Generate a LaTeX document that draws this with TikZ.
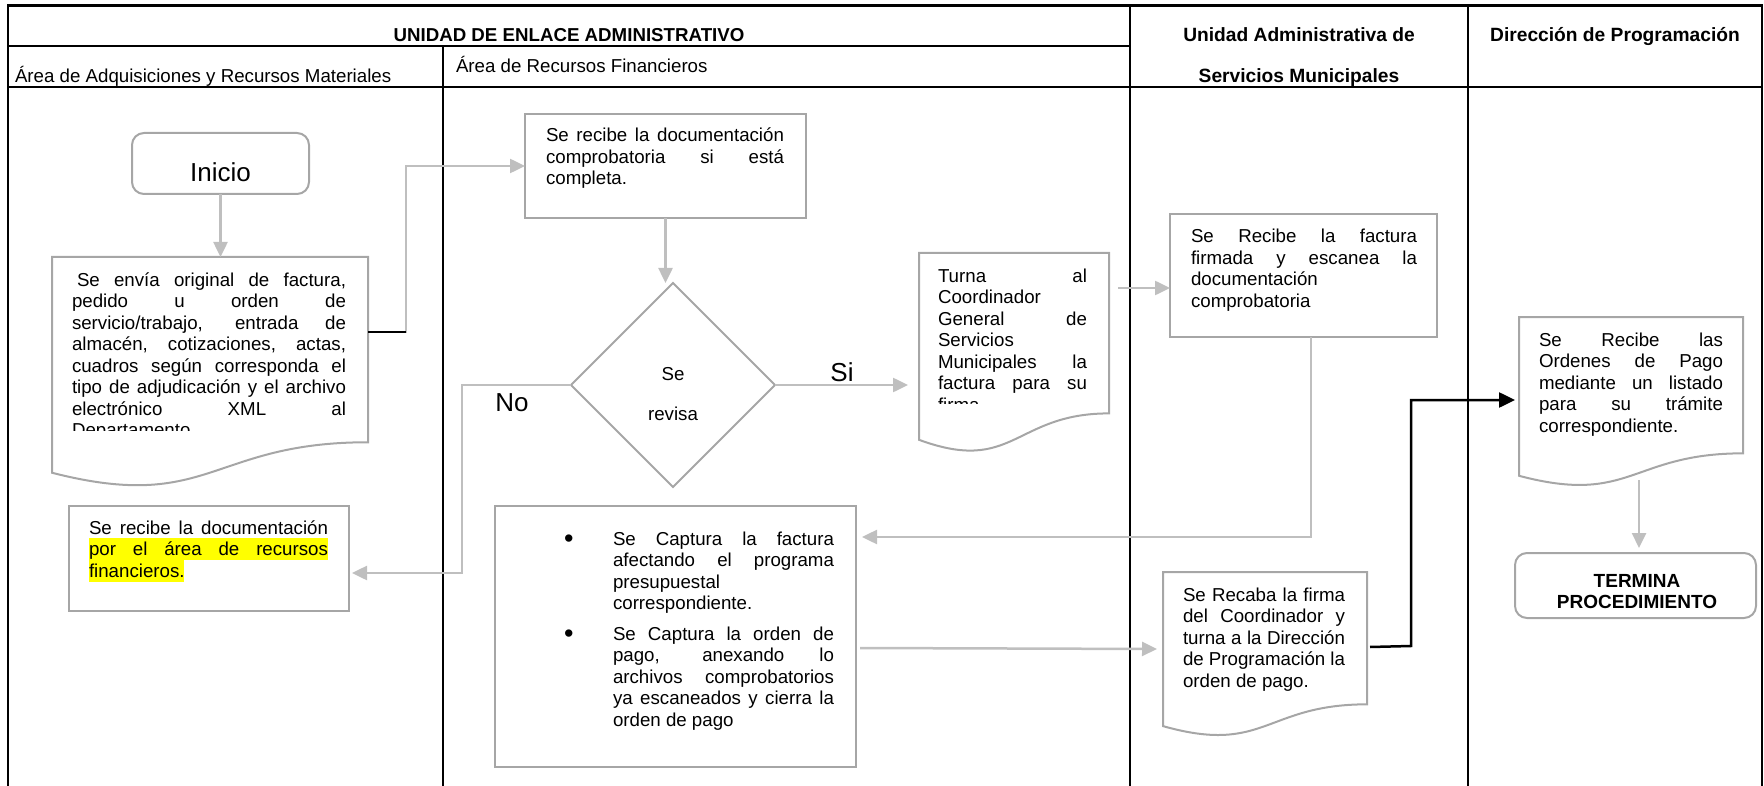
\documentclass[tikz,border=0pt]{standalone}
\usepackage{fontspec}
\setmainfont{Liberation Sans}
\usetikzlibrary{arrows.meta,shapes.geometric,calc}

\definecolor{boxgray}{HTML}{A6A6A6}
\definecolor{arrgray}{HTML}{BFBFBF}
\definecolor{hilite}{HTML}{FFFF00}

\newcommand\bodyfont{\fontsize{18.7}{21.5}\selectfont}
\newcommand\topstrut{\rule{0pt}{15pt}}
\newlength\tw
\newcommand\jl[1]{\makebox[\tw][s]{#1}}
\newcommand\bulmark{\llap{\makebox[49pt][l]{\raisebox{-2.6pt}{\fontsize{27}{27}\selectfont •}}}}

% document (wavy-bottom) outline around an invisible node
\newcommand\docpath[1]{%
  \draw[boxline] let \p1=(#1.north west), \p2=(#1.south east), \n1={\y1-\y2} in
    (\x1,\y1) -- (\x2,\y1) -- (\x2,{\y1-0.802*\n1})
    .. controls ({(\x1+\x2)/2},{\y1-0.802*\n1}) and ({(\x1+\x2)/2},{\y1-1.109*\n1}) ..
    (\x1,{\y1-0.934*\n1}) -- cycle;}

\begin{document}
\begin{tikzpicture}[x=1pt,y=-1pt,
  tbl/.style={line width=2.6pt, draw=black},
  boxline/.style={draw=boxgray, line width=2pt},
  box/.style={boxline, rectangle, inner sep=0pt, outer sep=0pt},
  rbox/.style={box, rounded corners=12pt},
  docnode/.style={rectangle, inner sep=0pt, outer sep=0pt},
  garrow/.style={draw=arrgray, line width=2.5pt, -{Triangle[length=15pt,width=14pt]}},
  karrow/.style={draw=black, line width=2.5pt, -{Triangle[length=16pt,width=15pt]}},
  txt/.style={anchor=north west, inner sep=0pt, outer sep=0pt, align=left, font=\bodyfont},
  lbl/.style={inner sep=0pt, outer sep=0pt, anchor=base},
]
\useasboundingbox (0,0) rectangle (1764,786);

% ---------- swimlane table ----------
\draw[tbl] (8,786) -- (8,5.6) -- (1762,5.6) -- (1762,786);
\draw[tbl] (8,46) -- (1130,46);
\draw[tbl] (8,87) -- (1762,87);
\draw[tbl] (443,46) -- (443,786);
\draw[tbl] (1130,5.6) -- (1130,786);
\draw[tbl] (1468,5.6) -- (1468,786);

\node[lbl, font=\bodyfont\bfseries] (h1) at (569,41.6) {UNIDAD DE ENLACE ADMINISTRATIVO};
\node[lbl, anchor=base west, font=\bodyfont] (h2) at (15,83) {Área de Adquisiciones y Recursos Materiales};
\node[lbl, anchor=base west, font=\bodyfont] (h3) at (456,72.6) {Área de Recursos Financieros};
\node[lbl, font=\fontsize{19.2}{22}\selectfont\bfseries] (h4) at (1299,41.6) {Unidad Administrativa de};
\node[lbl, font=\fontsize{19.2}{22}\selectfont\bfseries] (h5) at (1299,83) {Servicios Municipales};
\node[lbl, font=\fontsize{19.2}{22}\selectfont\bfseries] (h6) at (1615,41.6) {Dirección de Programación};

% ---------- shapes ----------
\node[rbox, minimum width=177pt, minimum height=61pt] (inicio) at (220.5,163.5) {};
\node[lbl, font=\fontsize{26}{30}\selectfont] (inicioT) at (220.5,182) {Inicio};

\node[docnode, minimum width=316pt, minimum height=231pt] (doc1) at (210,372.5) {};
\docpath{doc1}
\setlength\tw{274pt}
\begin{scope}
  \clip (52,257) rectangle (368,430);
  \node[txt] (doc1T) at (72,271) {\jl{\topstrut\hspace*{5pt}Se envía original de factura,}\\
    \jl{pedido u orden de}\\
    \jl{servicio/trabajo, entrada de}\\
    \jl{almacén, cotizaciones, actas,}\\
    \jl{cuadros según corresponda el}\\
    \jl{tipo de adjudicación y el archivo}\\
    \jl{electrónico XML al}\\
    Departamento};
\end{scope}

\node[box, minimum width=281pt, minimum height=104pt] (box2) at (665.5,166) {};
\setlength\tw{238pt}
\node[txt] (box2T) at (546,127) {\jl{\topstrut Se recibe la documentación}\\
  \jl{comprobatoria si está}\\
  completa.};

\node[diamond, boxline, minimum width=204pt, minimum height=204pt, inner sep=0pt, outer sep=0pt] (dia) at (673,385) {};
\node[inner sep=0pt, anchor=north, align=center, font=\fontsize{18.7}{40}\selectfont] (diaT) at (673,365) {\topstrut Se\\revisa};

\node[lbl, font=\fontsize{26}{30}\selectfont] (no) at (512,411) {No};
\node[lbl, font=\fontsize{26}{30}\selectfont] (si) at (842,381) {Si};

\node[box, minimum width=280pt, minimum height=105pt] (box3) at (209,558.5) {};
\fill[hilite] (89,538) rectangle (328,559.5);
\fill[hilite] (89,559.5) rectangle (184,581.5);
\setlength\tw{239pt}
\node[txt] (box3T) at (89,519) {\jl{\topstrut Se recibe la documentación}\\
  \jl{por el área de recursos}\\
  financieros.};

\node[docnode, minimum width=190pt, minimum height=200pt] (turna) at (1014,353) {};
\docpath{turna}
\setlength\tw{149pt}
\begin{scope}
  \clip (919,253) rectangle (1109,403);
  \node[txt] (turnaT) at (938,267) {\jl{\topstrut Turna al}\\
    Coordinador\\
    \jl{General de}\\
    Servicios\\
    \jl{Municipales la}\\
    \jl{factura para su}\\
    firma};
\end{scope}

\node[box, minimum width=267pt, minimum height=123pt] (recf) at (1303.5,275.5) {};
\setlength\tw{226pt}
\node[txt] (recfT) at (1191,228) {\jl{\topstrut Se Recibe la factura}\\
  \jl{firmada y escanea la}\\
  documentación\\
  comprobatoria};

\node[box, minimum width=361pt, minimum height=261pt] (bul) at (675.5,636.5) {};
\setlength\tw{221pt}
\node[txt] (bulT) at (613,530) {\jl{\topstrut\bulmark Se Captura la factura}\\
  \jl{afectando el programa}\\
  presupuestal\\
  correspondiente.\\[9pt]
  \jl{\bulmark Se Captura la orden de}\\
  \jl{pago, anexando lo}\\
  \jl{archivos comprobatorios}\\
  \jl{ya escaneados y cierra la}\\
  orden de pago};

\node[docnode, minimum width=204pt, minimum height=165pt] (recaba) at (1265,654.5) {};
\docpath{recaba}
\setlength\tw{162pt}
\node[txt] (recabaT) at (1183,586) {\jl{\topstrut Se Recaba la firma}\\
  \jl{del Coordinador y}\\
  \jl{turna a la Dirección}\\
  \jl{de Programación la}\\
  orden de pago.};

\node[docnode, minimum width=224pt, minimum height=170pt] (ordenes) at (1631,402) {};
\docpath{ordenes}
\setlength\tw{184pt}
\node[txt] (ordenesT) at (1539,331) {\jl{\topstrut Se Recibe las}\\
  \jl{Ordenes de Pago}\\
  \jl{mediante un listado}\\
  \jl{para su trámite}\\
  correspondiente.};

\node[rbox, minimum width=241pt, minimum height=65pt] (term) at (1635.5,585.5) {};
\node[inner sep=0pt, anchor=north, align=center, font=\fontsize{19}{21.5}\selectfont\bfseries] (termT) at (1637,572) {\topstrut TERMINA\\PROCEDIMIENTO};

% ---------- connectors ----------
\draw[garrow] (inicio.south) -- (inicio.south |- doc1.north);
\draw[garrow] ($(doc1.north east)+(0,75)$) -- ++(38,0) |- (box2.west);
\draw[black, line width=2.5pt] ($(doc1.north east)+(0,75)$) -- ++(38,0);
\draw[garrow] (box2.south) -- (box2.south |- dia.north);
\draw[garrow] (dia.west) -- ++(-109,0) |- ($(box3.east)+(3,14.5)$);
\draw[garrow] (dia.east) -- ([xshift=-11pt]dia.east -| turna.west);
\draw[garrow] ($(turna.north east)+(9,35)$) -- ($(recf.north west)+(0,74)$);
\draw[garrow] ($(recf.south)+(7.5,0)$) |- ($(bul.north east)+(6,31)$);
\draw[garrow] ($(bul.north east)+(4,142)$) -- ($(recaba.north west)+(-6,77)$);
\draw[karrow] ($(recaba.north east)+(3,75)$) -- ++(41,-1) |- ($(ordenes.north west)+(-4,83)$);
\draw[garrow] ($(ordenes.north west)+(120,163)$) -- ($(term.north)+(3.5,-5)$);
\end{tikzpicture}
\end{document}
